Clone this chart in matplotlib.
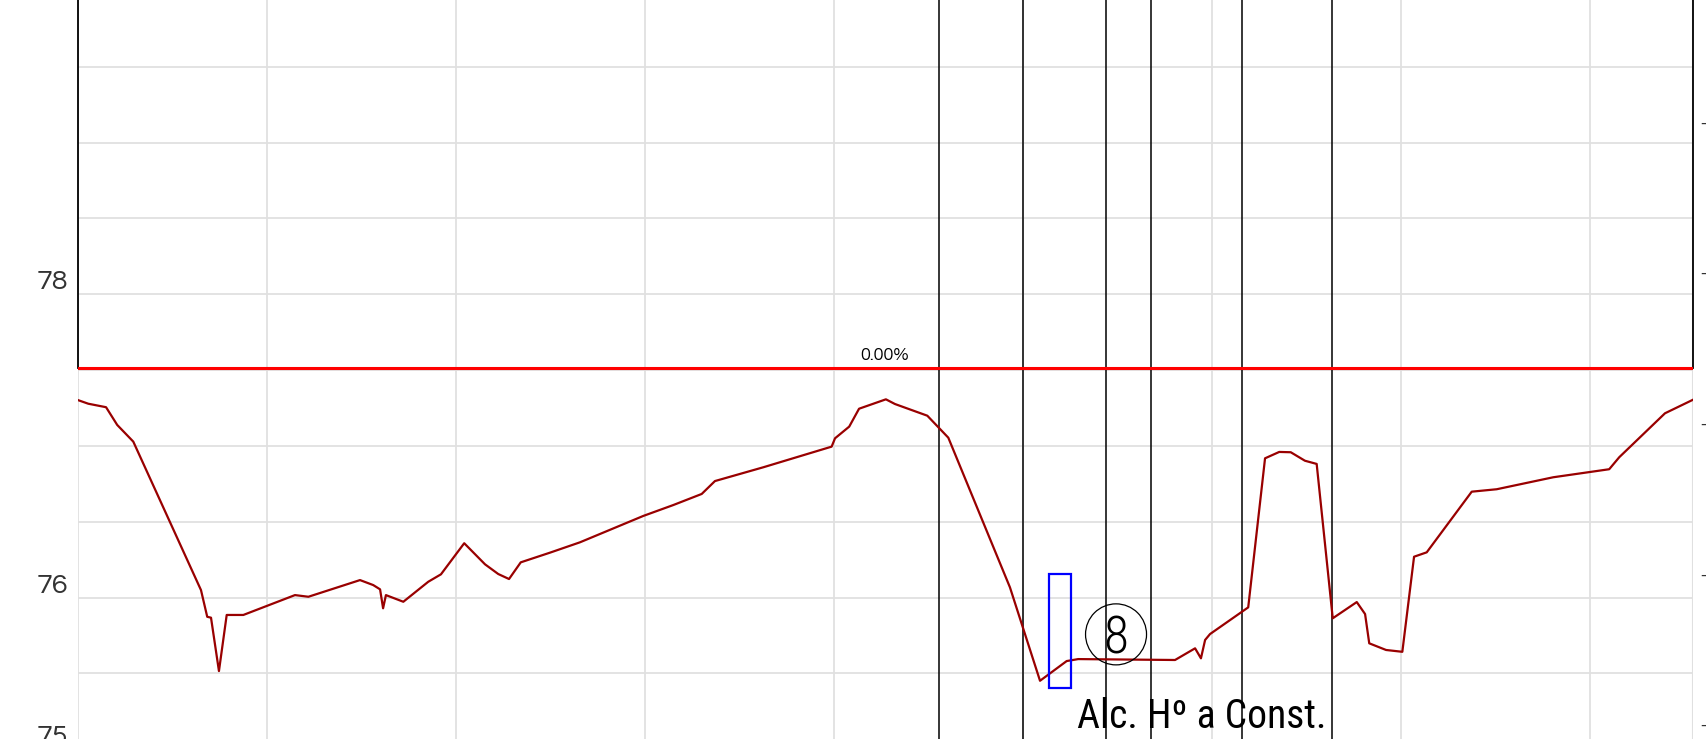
import matplotlib.pyplot as plt
from matplotlib.patches import Rectangle, Ellipse

# profile of the line (x in grid units, y in axis units)
dist = [0.000, 0.057, 0.151, 0.210, 0.295, 0.653, 0.686, 0.706, 0.748, 0.789,
        0.877, 1.150, 1.221, 1.494, 1.564, 1.600, 1.616, 1.631, 1.723, 1.855,
        1.922, 2.045, 2.155, 2.225, 2.282, 2.344, 2.499, 2.657, 2.992, 3.151,
        3.301, 3.371, 3.627, 3.988, 4.006, 4.081, 4.133, 4.275, 4.323, 4.494,
        4.605, 4.931, 5.090, 5.231, 5.292, 5.804, 5.910, 5.941, 5.963, 5.989,
        6.191, 6.280, 6.355, 6.416, 6.491, 6.553, 6.638, 6.765, 6.809, 6.831,
        6.920, 7.006, 7.068, 7.135, 7.373, 7.505, 7.804, 8.100, 8.153, 8.395,
        8.541]
level = [77.303, 77.278, 77.255, 77.138, 77.028, 76.049, 75.873, 75.867, 75.515, 75.885,
         75.885, 76.016, 76.005, 76.115, 76.082, 76.054, 75.929, 76.016, 75.972, 76.104,
         76.153, 76.358, 76.219, 76.155, 76.122, 76.232, 76.296, 76.364, 76.538, 76.610,
         76.683, 76.768, 76.859, 76.995, 77.050, 77.127, 77.245, 77.307, 77.276, 77.199,
         77.054, 76.067, 75.451, 75.581, 75.594, 75.588, 75.665, 75.599, 75.720, 75.759,
         75.935, 76.918, 76.960, 76.958, 76.902, 76.881, 75.863, 75.970, 75.891, 75.698,
         75.654, 75.642, 76.269, 76.298, 76.698, 76.714, 76.793, 76.846, 76.925, 77.215,
         77.303]

ref_level = 77.512
ref_label = "0.00%"
ref_label_x = 4.269
marks = [4.558, 4.998, 5.439, 5.675, 6.156, 6.636]
box_x = (5.139, 5.252)
box_y = (75.401, 76.153)
circle_center = (5.492, 75.757)
circle_text = "8"
bottom_text = "Alc. H\u00ba a Const."
bottom_text_pos = (5.284, 75.137)

left_ticks = [75, 76, 78]
left_labels = ["75", "76", "78"]
right_ticks = [75.17, 76.16, 77.155, 78.15, 79.14]
right_labels = ["\u2013"] * 5

narrow = ['Roboto Condensed', 'Archivo Narrow', 'DejaVu Sans']
round_font = ['Questrial', 'DejaVu Sans']

fig = plt.figure(figsize=(17.061, 7.391), dpi=100)
ax = fig.add_axes([77.5 / 1706, 0, 1615 / 1706, 1])

for s in ax.spines.values():
    s.set_visible(False)

#grid
ax.set_xticks(range(9))
ax.set_xticklabels([])
ax.set_yticks([75.5 + 0.5 * i for i in range(9)])
ax.set_yticklabels([])
ax.tick_params(axis='both', which='both', length=0)
ax.grid(True, color='#e0e0e0', linewidth=1.3, zorder=0)
ax.axvline(8.541, color='#e0e0e0', linewidth=1.5, zorder=0)
ax.set_axisbelow(True)

ax.set_xlim(0, 8.541)
ax.set_ylim(75.067, 79.941)

#left labels sit just above their level, 75 is cut by the bottom edge
for t, lab in zip(left_ticks, left_labels):
    ax.text(-9.5 / 1615, t, lab, transform=ax.get_yaxis_transform(), ha='right', va='bottom',
            fontsize=20.5, color='#333333', family=round_font, clip_on=False)

#black frame above the reference line
ax.plot([0, 0], [ref_level, 80], color='black', linewidth=1.3, clip_on=False, zorder=3)
ax.plot([8.541, 8.541], [ref_level, 80], color='black', linewidth=1.3, clip_on=False, zorder=3)

#vertical marks
for m in marks:
    ax.axvline(m, color='black', linewidth=1.1, zorder=2)

#reference line
ax.axhline(ref_level, color='#ff0000', linewidth=2.2, zorder=4)
ax.text(ref_label_x, ref_level + 0.03, ref_label, ha='center', va='bottom',
        fontsize=13, color='black', family=round_font, zorder=5)

#profile
ax.plot(dist, level, color='#990000', linewidth=1.6, zorder=3)

#blue box
ax.add_patch(Rectangle((box_x[0], box_y[0]), box_x[1] - box_x[0], box_y[1] - box_y[0],
                       fill=False, edgecolor='#0000ff', linewidth=1.6, zorder=5))

#circled number
ax.add_patch(Ellipse(circle_center, 2 * 30.5 / 189.1, 2 * 30.5 / 151.6, fill=False,
                     edgecolor='black', linewidth=0.9, zorder=5))
ax.text(circle_center[0], circle_center[1], circle_text, ha='center', va='center_baseline',
        fontsize=37, family=narrow, fontweight='light', color='black', zorder=6)

ax.text(bottom_text_pos[0], bottom_text_pos[1], bottom_text, ha='left', va='baseline',
        fontsize=28.5, family=narrow, color='black', zorder=6)

#right axis, cut off by the edge of the figure
ax2 = ax.twinx()
for s in ax2.spines.values():
    s.set_visible(False)
ax2.set_yticks(right_ticks)
ax2.set_yticklabels(right_labels)
ax2.tick_params(axis='y', length=0, pad=5.5, labelsize=11, labelcolor='#333333')
ax2.set_ylim(ax.get_ylim())

plt.savefig("out.png", dpi=100)
